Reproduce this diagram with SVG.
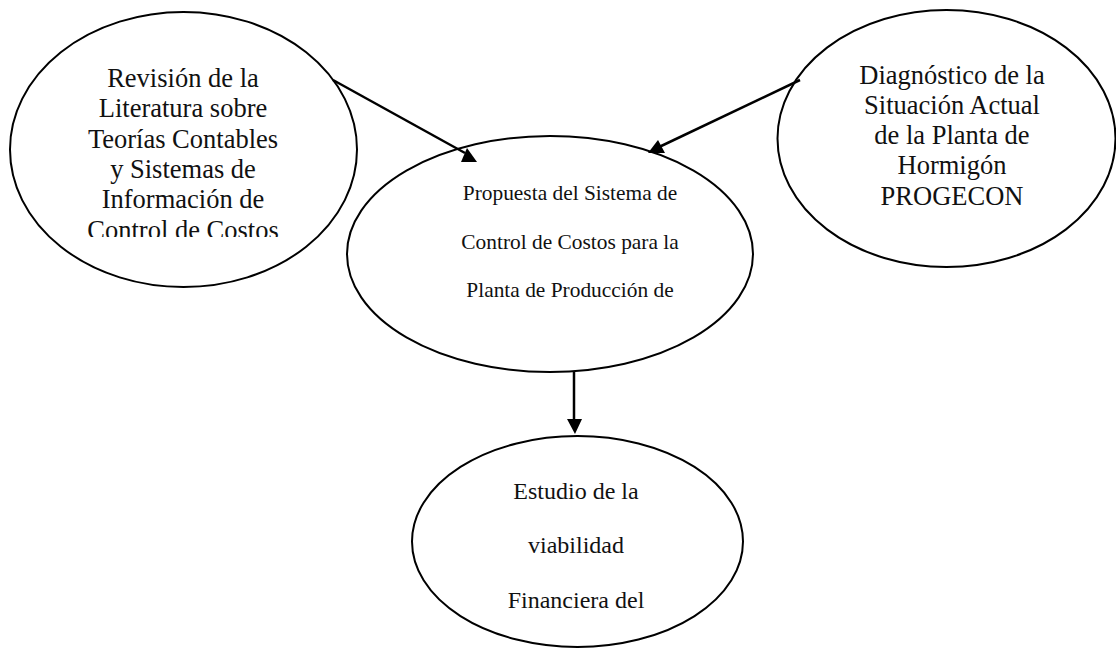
<svg xmlns="http://www.w3.org/2000/svg" width="1116" height="649" viewBox="0 0 1116 649">
<style>
.node{fill:#fff;stroke:#000;stroke-width:2}
.t{font-family:'Liberation Serif','Times New Roman',serif;fill:#111;text-anchor:middle}
.big{font-size:26.5px}
.mid{font-size:21.4px}
.low{font-size:24px}
.conn{stroke:#000;stroke-width:2.5;fill:none}
.head{fill:#000}
</style>
<defs>
<clipPath id="clipLeft"><rect x="0" y="0" width="400" height="237"/></clipPath>
</defs>
<rect width="1116" height="649" fill="#fff"/>
<g id="node-left">
<ellipse class="node" cx="183.5" cy="149.5" rx="173.5" ry="137.5"/>
<g clip-path="url(#clipLeft)">
<text class="t big" x="183" y="87">Revisión de la</text>
<text class="t big" x="183" y="117">Literatura sobre</text>
<text class="t big" x="183" y="148">Teorías Contables</text>
<text class="t big" x="183" y="178">y Sistemas de</text>
<text class="t big" x="183" y="208">Información de</text>
<text class="t big" x="183" y="239">Control de Costos</text>
</g>
</g>
<g id="node-right">
<ellipse class="node" cx="946.5" cy="138.5" rx="169" ry="128.5"/>
<text class="t big" x="952" y="84">Diagnóstico de la</text>
<text class="t big" x="952" y="114">Situación Actual</text>
<text class="t big" x="952" y="144">de la Planta de</text>
<text class="t big" x="952" y="174">Hormigón</text>
<text class="t big" x="952" y="205">PROGECON</text>
</g>
<g id="node-center">
<ellipse class="node" cx="550" cy="254" rx="203" ry="118"/>
<text class="t mid" x="570" y="200">Propuesta del Sistema de</text>
<text class="t mid" x="570" y="249">Control de Costos para la</text>
<text class="t mid" x="570" y="297">Planta de Producción de</text>
</g>
<g id="node-bottom">
<ellipse class="node" cx="577.5" cy="541.5" rx="165.5" ry="105.5"/>
<text class="t low" x="576" y="499">Estudio de la</text>
<text class="t low" x="576" y="553">viabilidad</text>
<text class="t low" x="576" y="608">Financiera del</text>
</g>
<g id="connectors">
<line class="conn" x1="333" y1="80" x2="465" y2="153"/>
<polygon class="head" points="467,148 461,162 477,162"/>
<line class="conn" x1="800" y1="80" x2="657" y2="148"/>
<polygon class="head" points="658,140 648,153 665,153"/>
<line class="conn" x1="574" y1="372" x2="574" y2="420"/>
<polygon class="head" points="567,419 582,419 575,434"/>
</g>
</svg>
